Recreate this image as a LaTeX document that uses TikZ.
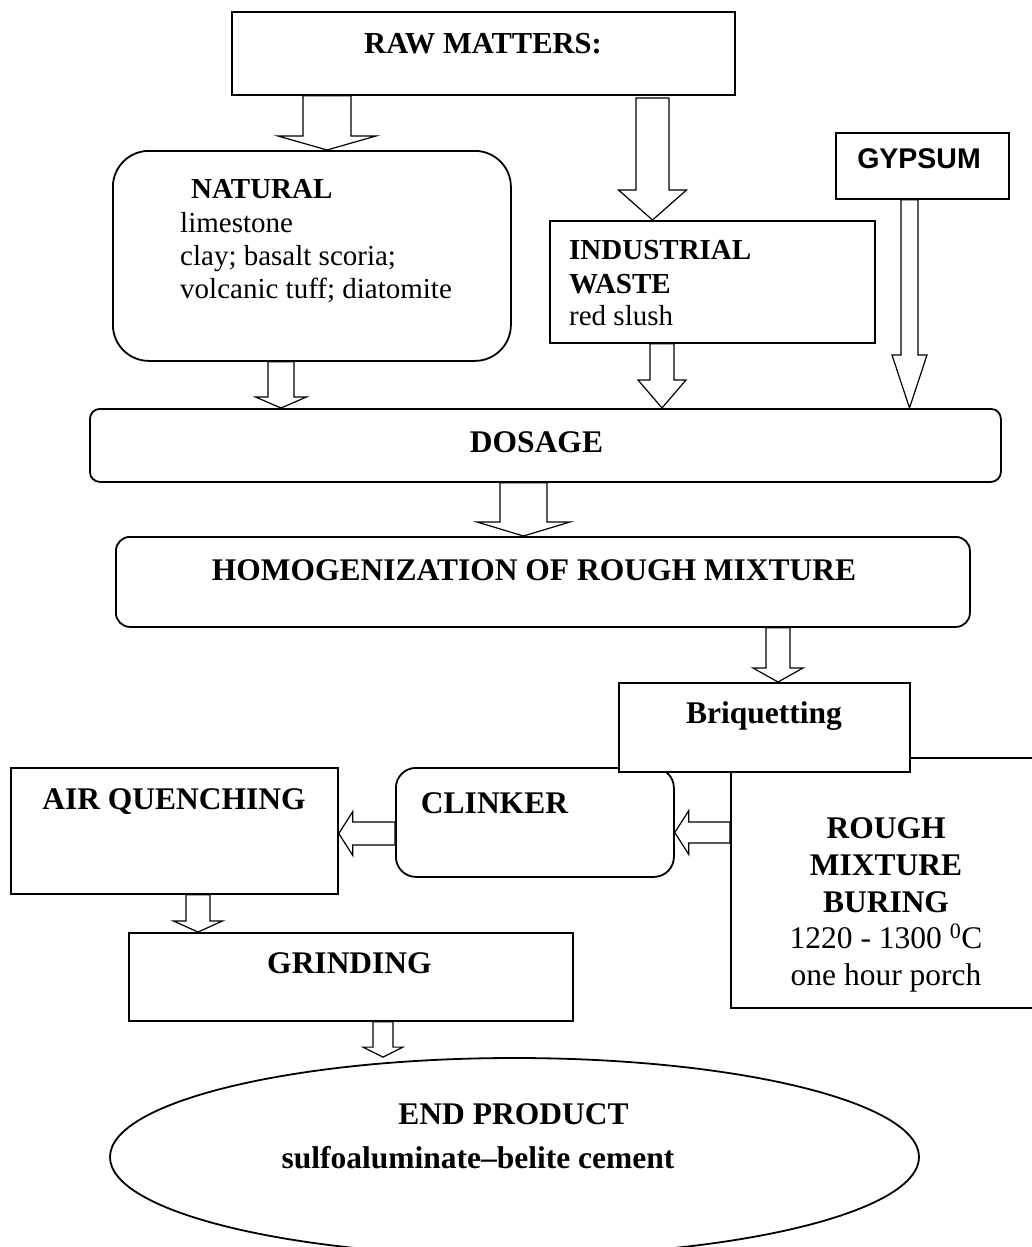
\documentclass[tikz,border=0pt]{standalone}
\usepackage{fontspec}
\setmainfont{Liberation Serif}
\newfontfamily\arialfont{Liberation Sans}
\usetikzlibrary{calc,shapes.geometric}
\tikzset{
 box/.style={draw, line width=1.8pt, fill=white, inner sep=0pt, anchor=north west},
 blk/.style={draw, line width=1.2pt, fill=white, line join=miter},
 txt/.style={inner sep=0pt, anchor=base},
 txtl/.style={inner sep=0pt, anchor=base west},
 big/.style={font=\fontsize{31.5}{36}\selectfont\bfseries},
 bigr/.style={font=\fontsize{31.5}{36}\selectfont},
 med/.style={font=\fontsize{29}{33}\selectfont\bfseries},
 medr/.style={font=\fontsize{29}{33}\selectfont},
}
% vertical block arrow: #1 start point, #2 tip point, #3 shaft half width, #4 head half width, #5 head length
\newcommand\blkdown[5]{\draw[blk] let \p1=#1, \p2=#2 in (\x1-#3,\y1) -- (\x1-#3,\y2+#5) -- (\x1-#4,\y2+#5) -- (\x1,\y2) -- (\x1+#4,\y2+#5) -- (\x1+#3,\y2+#5) -- (\x1+#3,\y1) -- cycle;}
% leftward block arrow
\newcommand\blkleft[5]{\draw[blk] let \p1=#1, \p2=#2 in (\x1,\y1+#3) -- (\x2+#5,\y1+#3) -- (\x2+#5,\y1+#4) -- (\x2,\y1) -- (\x2+#5,\y1-#4) -- (\x2+#5,\y1-#3) -- (\x1,\y1-#3) -- cycle;}
\begin{document}
\begin{tikzpicture}[x=1pt,y=-1pt]
\clip (0,0) rectangle (1032,1247);
\fill[white] (0,0) rectangle (1032,1247);

% boxes
\node[box, minimum width=503pt, minimum height=83pt] (raw) at (231,11) {};
\node[box, rounded corners=36pt, minimum width=398pt, minimum height=210pt] (nat) at (112,150) {};
\node[box, minimum width=325pt, minimum height=122pt] (ind) at (549,220) {};
\node[box, minimum width=173pt, minimum height=66pt] (gyp) at (835,132) {};
\node[box, rounded corners=10pt, minimum width=911pt, minimum height=73pt] (dos) at (89,408) {};
\node[box, rounded corners=14pt, minimum width=854pt, minimum height=90pt] (hom) at (115,536) {};
\node[box, minimum width=330pt, minimum height=250pt] (rough) at (730,757) {};
\node[box, rounded corners=20pt, minimum width=278pt, minimum height=109pt] (clk) at (395,767) {};
\node[box, minimum width=291pt, minimum height=89pt] (briq) at (618,682) {};
\node[box, minimum width=327pt, minimum height=126pt] (air) at (10,767) {};
\node[box, minimum width=444pt, minimum height=88pt] (grd) at (128,932) {};
\node[draw, line width=1.8pt, ellipse, inner sep=0pt, minimum width=809pt, minimum height=198pt] (end) at (514.5,1157) {};

% block arrows
\blkdown{(327,0 |- raw.south)}{(327,0 |- nat.north)}{24pt}{49pt}{14pt}
\blkdown{(281,0 |- nat.south)}{(281,0 |- dos.north)}{13pt}{25.5pt}{11pt}
\blkdown{(652.5,98)}{(652.5,0 |- ind.north)}{16.5pt}{34pt}{30pt}
\blkdown{(662,0 |- ind.south)}{(662,0 |- dos.north)}{12pt}{24pt}{28pt}
\blkdown{(909.5,0 |- gyp.south)}{(909.5,0 |- dos.north)}{8.5pt}{17.5pt}{53pt}
\blkdown{(523.5,0 |- dos.south)}{(523.5,0 |- hom.north)}{23.5pt}{46.5pt}{14pt}
\blkdown{(778,0 |- hom.south)}{(778,0 |- briq.north)}{12pt}{25pt}{14pt}
\blkdown{(198,0 |- air.south)}{(198,0 |- grd.north)}{12pt}{24.5pt}{11pt}
\blkdown{(383,0 |- grd.south)}{(383,0 |- end.north)}{10pt}{20pt}{10pt}
\blkleft{(rough.west |- 0,832.5)}{(clk.east |- 0,832.5)}{10.5pt}{22pt}{14pt}
\blkleft{(clk.west |- 0,833.5)}{(air.east |- 0,833.5)}{11.5pt}{22pt}{14pt}

% texts
\node[txt, font=\fontsize{30.5}{35}\selectfont\bfseries] (rawt) at (483,53) {RAW MATTERS:};
\node[txtl, med] (nat1) at (191,198) {NATURAL};
\node[txtl, medr] (nat2) at (180,232) {limestone};
\node[txtl, medr] (nat3) at (180,265) {clay; basalt scoria;};
\node[txtl, medr] (nat4) at (180,298) {volcanic tuff; diatomite};
\node[txtl, med] (ind1) at (569,259) {INDUSTRIAL};
\node[txtl, med] (ind2) at (569,293) {WASTE};
\node[txtl, medr] (ind3) at (569,325) {red slush};
\node[txt, font=\arialfont\bfseries\fontsize{28.5}{32}\selectfont] (gypt) at (919,168) {GYPSUM};
\node[txt, big] (dost) at (536.5,452) {DOSAGE};
\node[txt, big] (homt) at (534,580) {HOMOGENIZATION OF ROUGH MIXTURE};
\node[txt, big] (briqt) at (764,723) {Briquetting};
\node[txt, big] (airt) at (174,809) {AIR QUENCHING};
\node[txt, big] (clkt) at (494.5,813) {CLINKER};
\node[txt, big] (r1) at (886,838) {ROUGH};
\node[txt, big] (r2) at (886,875) {MIXTURE};
\node[txt, big] (r3) at (886,912) {BURING};
\node[txt, bigr] (r4) at (886,948) {1220 - 1300 \textsuperscript{0}C};
\node[txt, bigr] (r5) at (886,985) {one hour porch};
\node[txt, big] (grdt) at (349.5,973) {GRINDING};
\node[txt, big] (endt1) at (513.5,1124) {END PRODUCT};
\node[txt, big] (endt2) at (478,1168) {sulfoaluminate--belite cement};
\end{tikzpicture}
\end{document}
